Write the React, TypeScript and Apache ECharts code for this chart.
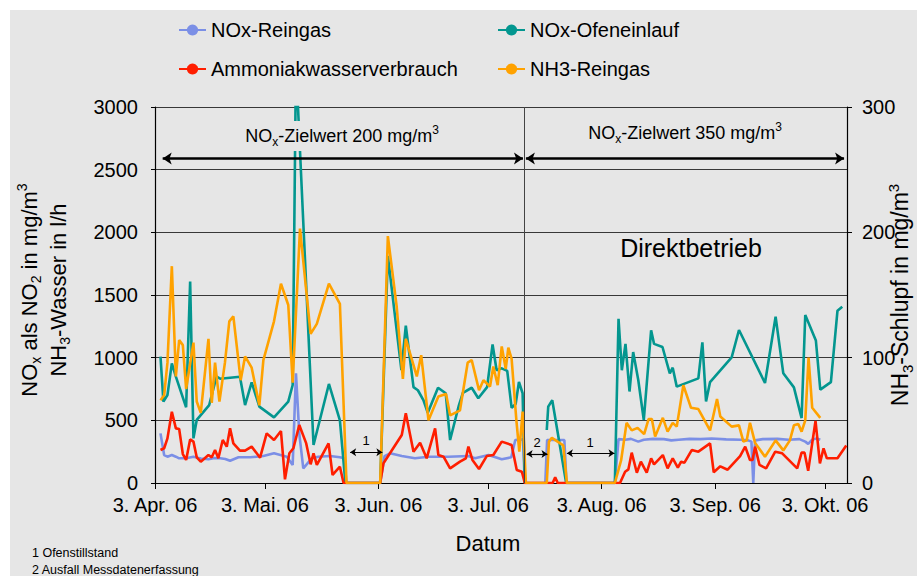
import React, { useEffect, useRef } from "react";
import * as echarts from "echarts";

const FONT = "'Liberation Sans', Arial, Helvetica, sans-serif";

// x values are days since 3 Apr 2006
const xTickDays = [0, 30, 61, 91, 122, 153, 183];
const xTickLabels = ["3. Apr. 06", "3. Mai. 06", "3. Jun. 06", "3. Jul. 06", "3. Aug. 06", "3. Sep. 06", "3. Okt. 06"];
const xMaxDay = 189;

const seriesNames = ["NOx-Reingas", "NOx-Ofeneinlauf", "Ammoniakwasserverbrauch", "NH3-Reingas"];
const seriesColors = ["#7b8fe6", "#03968f", "#ff1e00", "#ffa200"];

// NOx-Reingas, mg/m3 (left axis)
const noxReingas: [number, number | null][] = [
  [1.5, 396], [2.5, 223], [3.4, 210], [4.6, 223], [5.7, 210], [6.6, 197], [8.5, 197], [10.5, 210], [12.5, 195],
  [14.6, 189], [16.2, 200], [17.8, 197], [19.2, 192], [20.5, 178], [22.8, 205], [26, 205], [29.6, 215], [32.5, 237],
  [36, 210], [37.6, 144], [38.5, 875], [39.4, 396], [40.5, 117], [42.8, 197], [44.6, 210], [47.8, 215], [50.5, 205],
  [51.7, 197], [52.3, 0], [61.5, 0], [62.7, 215], [64.2, 237], [67.4, 215], [71, 197], [74.7, 210], [80.1, 210],
  [85.6, 215], [87.4, 197], [91.1, 223], [94.7, 189], [97.3, 205], [98.4, 343], [100.5, 348], [101, 0], [106.6, 0],
  [107.1, 343], [111.8, 343], [112.4, 0], [125.6, 0], [126.6, 350], [128.5, 345], [130, 352], [132, 330], [133.5, 345],
  [136, 352], [139, 350], [141, 340], [143, 345], [146, 352], [149, 350], [152, 355], [156, 348], [160, 345],
  [162, 340], [162.9, 330], [163.4, 0], [163.9, 340], [166, 350], [170, 352], [173, 345], [176, 350], [177.6, 330],
  [178.4, 312], [179.5, 345], [180.7, 356], [181.7, 345],
];

// NOx-Ofeneinlauf, mg/m3 (left axis)
const noxOfeneinlauf: [number, number | null][] = [
  [1.5, 1008], [2.3, 649], [3.4, 702], [4.6, 955], [5.7, 849], [8.5, 604], [9.6, 1607], [10.5, 356], [11.4, 503],
  [14.8, 622], [16.8, 849], [17.8, 832], [23.2, 848], [24.6, 622], [26.4, 803], [28.5, 609], [32.5, 524], [36.4, 649],
  [37.6, 782], [38.5, 3350], [43.3, 303], [47.5, 790], [50.5, 500], [52, 0], [61.5, 0], [63.6, 1811], [67.3, 900],
  [68.5, 1255], [70.6, 765], [71.8, 740], [73.3, 662], [74.5, 560], [77.3, 760], [79.4, 716], [80.6, 343], [83, 620],
  [84.1, 720], [86.5, 760], [88.3, 676], [90.7, 765], [92.2, 1105], [93.3, 900], [94.7, 915], [96.2, 895], [97.4, 600],
  [98.5, 630], [99.4, 806], [100.4, 716], [101, 0], [104, null], [107, 423], [107.4, 609], [108.5, 660], [112.3, 0],
  [125.6, 0], [126.6, 1310], [127.5, 900], [128.5, 1110], [129.6, 730], [130.6, 1045], [132, 820], [133.5, 503],
  [135.5, 1218], [136.3, 1110], [138.6, 1085], [140.6, 875], [141.4, 920], [142.5, 769], [148.4, 835], [149.5, 1122],
  [150.5, 650], [151.6, 805], [157.5, 1003], [159.5, 1221], [166.6, 798], [169.5, 1327], [171.6, 875], [174.5, 763],
  [176.6, 518], [177.6, 1341], [180.5, 1137], [181.7, 745], [184.6, 805], [186.4, 1375], [187.7, 1407],
];

// Ammoniakwasserverbrauch, l/h (left axis)
const ammoniakwasser: [number, number | null][] = [
  [1.5, 263], [2.5, 277], [3.4, 356], [4.6, 569], [5.7, 436], [6.6, 431], [7.6, 231], [8.5, 184], [9.6, 348],
  [10.5, 330], [11.4, 205], [12.5, 170], [14.6, 223], [15.5, 205], [16.4, 263], [17.3, 197], [18.5, 343], [19.6, 290],
  [20.5, 436], [21.4, 316], [23.2, 258], [24.6, 258], [26.4, 290], [28.7, 202], [30.5, 396], [32.5, 343], [34.4, 415],
  [35.5, 29], [36.7, 237], [37.8, 277], [39.4, 463], [41.3, 316], [42.5, 149], [43.3, 237], [44.2, 144], [47.4, 316],
  [48.5, 64], [50.5, 130], [51.5, 0], [61.5, 0], [62.4, 157], [67.4, 383], [68.5, 556], [70.6, 250], [72.4, 322],
  [74.2, 197], [76.5, 436], [77.4, 223], [78.8, 210], [80.6, 117], [83.3, 170], [84.9, 197], [85.6, 290], [86.7, 184],
  [88.5, 112], [90.6, 215], [92.4, 223], [94.7, 330], [97.4, 303], [98.8, 104], [100.2, 90], [101, 0], [108.6, 0],
  [109.3, 45], [110, 0], [125.6, 0], [127, 0], [128.4, 90], [129.3, 109], [130.2, 242], [131.6, 82], [132.7, 170],
  [134.3, 82], [135.5, 197], [136.3, 149], [138.7, 223], [140, 117], [141.4, 197], [142.8, 122], [143.7, 170],
  [144.6, 162], [146.6, 263], [148.4, 250], [151.6, 316], [152.6, 86], [154.4, 133], [156.4, 106], [159.8, 215],
  [161.2, 290], [162.5, 184], [163.2, 184], [163.9, 290], [165.1, 144], [166, 130], [166.9, 117], [169.4, 250],
  [171.3, 237], [175.4, 117], [176.6, 242], [177.4, 242], [178.4, 97], [180.4, 496], [181.6, 157], [182.6, 277],
  [183.5, 197], [186.4, 197], [188.8, 300],
];

// NH3-Reingas, mg/m3 (right axis)
const nh3Reingas: [number, number | null][] = [
  [1.5, 66], [2.5, 70], [3.4, 96], [4.6, 173], [5.7, 85], [6.6, 114], [7.6, 110], [8.5, 75], [10.5, 112], [11.4, 65],
  [12.5, 56], [14.6, 115], [15.5, 64], [16.4, 96], [17.6, 65], [19.1, 96], [20.3, 129], [21.4, 133], [23.4, 82],
  [24.6, 101], [26.4, 92], [28.5, 62], [29.6, 98], [32.5, 129], [34.4, 159], [36.4, 142], [37.6, 80], [39.6, 203],
  [42.5, 119], [44.2, 127], [47.5, 159], [50.5, 143], [52.3, 0], [61.5, 0], [63.6, 197], [66, 141], [67.7, 83],
  [68.5, 115], [71.5, 85], [72.7, 102], [74.7, 50], [77.4, 69], [79.5, 71], [80.6, 54], [83.3, 58], [85.4, 96],
  [86.5, 98], [88.5, 74], [89.7, 82], [91.5, 77], [92.4, 93], [93.6, 78], [94.7, 109], [95.8, 91], [96.5, 108],
  [97.4, 99], [98.7, 50], [99.5, 25], [100.4, 57], [101.3, 0], [107, 0], [107.6, 33], [108.4, 36], [111.5, 30],
  [112.5, 0], [125.6, 0], [127.3, 18], [128.8, 48], [130.2, 42], [131.8, 44], [133.6, 39], [134.8, 51], [135.7, 51],
  [136.6, 37], [138.7, 52], [140, 41], [141.4, 48], [142.5, 45], [144.3, 78], [146.4, 60], [148.4, 59], [151.6, 42],
  [153.5, 67], [154.4, 53], [157.5, 45], [159.5, 46], [160.7, 33], [161.6, 34], [162.5, 48], [163.9, 32], [166.6, 21],
  [169.5, 34], [171.6, 26], [173.4, 34], [174.5, 46], [175.7, 47], [176.6, 41], [177.6, 50], [178.5, 100], [179.5, 60],
  [181.7, 52],
];

// annotation positions in data units (day, left-axis value)
const dividerDay = 100.8;
const periodArrows = [
  [[2.1, 2590], [100.5, 2590]],
  [[101.3, 2590], [188.2, 2590]],
];
const gapArrows = [
  [[53.3, 245], [62.1, 245]],
  [[101.5, 231], [107.2, 231]],
  [[112.5, 237], [125.5, 237]],
];

function rich(fs: number) {
  const s = Math.round(fs * 0.64);
  return {
    n: { fontSize: fs, lineHeight: fs + 6, fontFamily: FONT, fill: "#000" },
    sub: { fontSize: s, lineHeight: s, verticalAlign: "bottom", fontFamily: FONT, fill: "#000" },
    sup: { fontSize: s, lineHeight: s, verticalAlign: "top", fontFamily: FONT, fill: "#000" },
  };
}

function plainText(text: string, x: number, y: number, fontSize: number, align = "center") {
  return {
    type: "text",
    x,
    y,
    z: 10,
    silent: true,
    style: { text, fontSize, fontFamily: FONT, fill: "#000", align, verticalAlign: "middle" },
  };
}

function richText(text: string, x: number, y: number, fontSize: number, extra: any = {}, rotation = 0) {
  return {
    type: "text",
    x,
    y,
    rotation,
    z: 10,
    silent: true,
    style: { text, rich: rich(fontSize), align: "center", verticalAlign: "middle", ...extra },
  };
}

const lineSeries = (name: string, data: any[], color: string, yAxisIndex = 0) => ({
  name,
  type: "line",
  yAxisIndex,
  data,
  symbol: "none",
  showSymbol: false,
  connectNulls: false,
  lineStyle: { color, width: 2.6 },
  itemStyle: { color },
});

export default function App() {
  const ref = useRef<HTMLDivElement>(null);
  useEffect(() => {
    document.body.style.margin = "0";
    const chart = echarts.init(ref.current!, null, { renderer: "svg" });
    const legendBase = {
      orient: "vertical",
      top: 20,
      padding: 0,
      itemGap: 19,
      itemWidth: 27,
      itemHeight: 14,
      textStyle: { fontSize: 20, fontFamily: FONT, color: "#000" },
    };
    const option: any = {
      animation: false,
      backgroundColor: "#ffffff",
      textStyle: { fontFamily: FONT },
      legend: [
        { ...legendBase, left: 178, data: [seriesNames[0], seriesNames[2]] },
        { ...legendBase, left: 497, data: [seriesNames[1], seriesNames[3]] },
      ],
      grid: { left: 155, right: 70, top: 107, bottom: 93 },
      xAxis: {
        type: "value",
        min: 0,
        max: xMaxDay,
        axisLine: { show: true, onZero: false, lineStyle: { color: "#000", width: 1.2 } },
        axisTick: { show: true, customValues: xTickDays, length: 6, lineStyle: { color: "#000" } },
        axisLabel: {
          customValues: xTickDays,
          formatter: (v: number) => {
            const i = xTickDays.indexOf(Math.round(v));
            return i >= 0 ? xTickLabels[i] : "";
          },
          fontSize: 20,
          fontFamily: FONT,
          color: "#000",
          margin: 12,
        },
        splitLine: { show: false },
      },
      yAxis: [
        {
          type: "value",
          min: 0,
          max: 3000,
          interval: 500,
          position: "left",
          axisLine: { show: true, lineStyle: { color: "#000", width: 1.2 } },
          axisTick: { show: true, length: 4, lineStyle: { color: "#000" } },
          axisLabel: { fontSize: 20, fontFamily: FONT, color: "#000", margin: 17, formatter: (v: number) => String(v) },
          splitLine: { show: true, lineStyle: { color: "#383838", width: 1 } },
        },
        {
          type: "value",
          min: 0,
          max: 300,
          interval: 100,
          position: "right",
          axisLine: { show: true, lineStyle: { color: "#000", width: 1.2 } },
          axisTick: { show: true, length: 5, lineStyle: { color: "#000" } },
          axisLabel: { fontSize: 20, fontFamily: FONT, color: "#000", margin: 15, formatter: (v: number) => String(v) },
          splitLine: { show: false },
        },
      ],
      series: [
        lineSeries(seriesNames[0], noxReingas, seriesColors[0]),
        lineSeries(seriesNames[1], noxOfeneinlauf, seriesColors[1]),
        lineSeries(seriesNames[2], ammoniakwasser, seriesColors[2]),
        lineSeries(seriesNames[3], nh3Reingas, seriesColors[3], 1),
        {
          name: "divider",
          type: "line",
          data: [],
          z: 1,
          markLine: {
            silent: true,
            symbol: ["none", "none"],
            label: { show: false },
            lineStyle: { color: "#444", width: 1, type: "solid" },
            data: [{ xAxis: dividerDay }],
          },
        },
        {
          name: "periodArrows",
          type: "line",
          data: [],
          z: 6,
          markLine: {
            silent: true,
            symbol: ["arrow", "arrow"],
            symbolSize: 9,
            label: { show: false },
            lineStyle: { color: "#000", width: 2.6, type: "solid" },
            data: periodArrows.map(([a, b]) => [{ coord: a }, { coord: b }]),
          },
        },
        {
          name: "gapArrows",
          type: "line",
          data: [],
          z: 6,
          markLine: {
            silent: true,
            symbol: ["arrow", "arrow"],
            symbolSize: 6,
            label: { show: false },
            lineStyle: { color: "#000", width: 1.2, type: "solid" },
            data: gapArrows.map(([a, b]) => [{ coord: a }, { coord: b }]),
          },
        },
      ],
      graphic: [
        { type: "rect", z: -10, silent: true, shape: { x: 10, y: 10, width: 907, height: 566 }, style: { fill: "#e6e6e6" } },
        richText("{n|NO}{sub|x}{n|-Zielwert 200 mg/m}{sup|3}", 342, 136, 18, { backgroundColor: "#e6e6e6", padding: [3, 4, 3, 4] }),
        richText("{n|NO}{sub|x}{n|-Zielwert 350 mg/m}{sup|3}", 685, 133, 18),
        plainText("Direktbetrieb", 691, 248, 25),
        plainText("1", 366, 440, 13),
        plainText("2", 537, 442, 13),
        plainText("1", 590, 442, 13),
        plainText("Datum", 488, 543, 22),
        plainText("1 Ofenstillstand", 32, 553, 12.5, "left"),
        plainText("2 Ausfall Messdatenerfassung", 32, 570, 12.5, "left"),
        richText("{n|NO}{sub|x}{n| als NO}{sub|2}{n| in mg/m}{sup|3}", 29, 290, 22, {}, Math.PI / 2),
        richText("{n|NH}{sub|3}{n|-Wasser in l/h}", 58, 290, 22, {}, Math.PI / 2),
        richText("{n|NH}{sub|3}{n|-Schlupf in mg/m}{sup|3}", 900, 295, 23, {}, Math.PI / 2),
      ],
    };
    chart.setOption(option);
    return () => chart.dispose();
  }, []);
  return <div ref={ref} style={{ width: 917, height: 576 }} />;
}
